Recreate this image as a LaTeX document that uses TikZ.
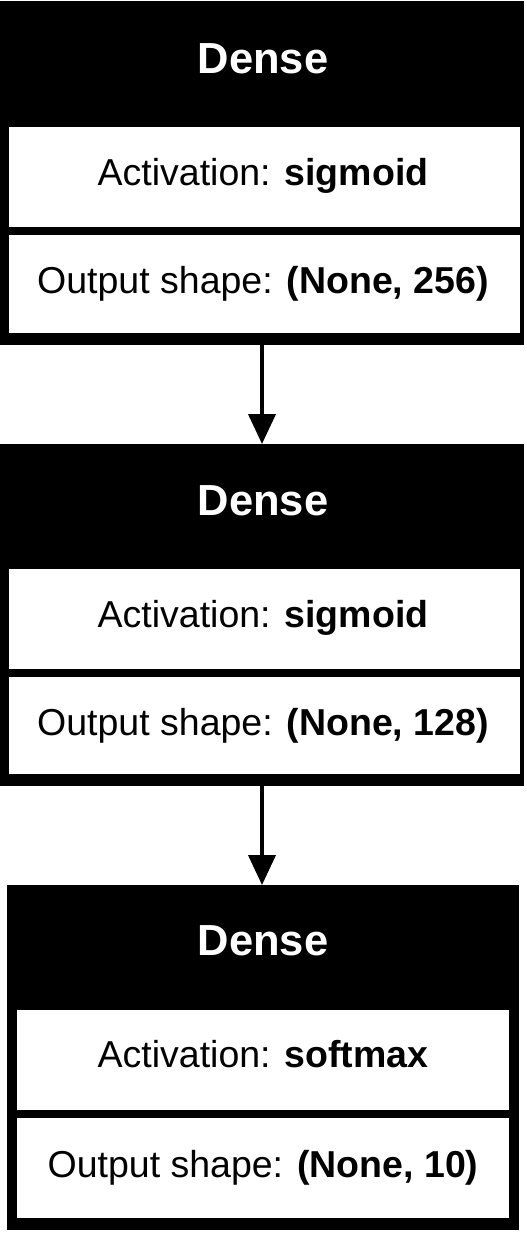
\documentclass[tikz,border=0pt]{standalone}
\usepackage{fontspec}
\setmainfont{Liberation Sans}
\usetikzlibrary{arrows.meta}
\tikzset{
  blk/.style={rectangle, fill=black, draw=none, inner sep=0pt, outer sep=0pt, anchor=north west},
  row/.style={rectangle, fill=white, draw=none, inner sep=0pt, outer sep=0pt, anchor=north west},
  head/.style={text=white, inner sep=0pt, anchor=base, font=\fontsize{43.5}{50}\selectfont\bfseries},
  body/.style={text=black, inner sep=0pt, anchor=base, font=\fontsize{37.5}{45}\selectfont},
  arr/.style={line width=4pt, -{Triangle[width=27pt,length=30pt]}, shorten >=0pt}
}
\begin{document}
\begin{tikzpicture}[x=1pt, y=-1pt]
\useasboundingbox (0,0) rectangle (527,1234);
\fill[white] (0,0) rectangle (527,1234);
% Block 1
\node[blk, minimum width=524pt, minimum height=344pt] (b1) at (0,1) {};
\node[row, minimum width=511pt, minimum height=100pt] (b1a) at (9,127) {};
\node[row, minimum width=511pt, minimum height=98pt] (b1o) at (9,235) {};
\node[head] (t1h) at (263,73) {Dense};
\node[body] (t1a) at (263,185) {Activation: \textbf{sigmoid}};
\node[body] (t1o) at (263,293) {Output shape: \textbf{(None, 256)}};
% Block 2
\node[blk, minimum width=524pt, minimum height=342pt] (b2) at (0,444) {};
\node[row, minimum width=511pt, minimum height=100pt] (b2a) at (9,569) {};
\node[row, minimum width=511pt, minimum height=97pt] (b2o) at (9,677) {};
\node[head] (t2h) at (263,515) {Dense};
\node[body] (t2a) at (263,627) {Activation: \textbf{sigmoid}};
\node[body] (t2o) at (263,735) {Output shape: \textbf{(None, 128)}};
% Block 3
\node[blk, minimum width=512pt, minimum height=345pt] (b3) at (7,885) {};
\node[row, minimum width=492pt, minimum height=100pt] (b3a) at (17,1010) {};
\node[row, minimum width=492pt, minimum height=100pt] (b3o) at (17,1118) {};
\node[head] (t3h) at (263,955) {Dense};
\node[body] (t3a) at (263,1067) {Activation: \textbf{softmax}};
\node[body] (t3o) at (263,1177) {Output shape: \textbf{(None, 10)}};
% Arrows
\draw[arr] (b1.south) -- (b1.south |- b2.north);
\draw[arr] (b2.south) -- (b2.south |- b3.north);
\end{tikzpicture}
\end{document}
